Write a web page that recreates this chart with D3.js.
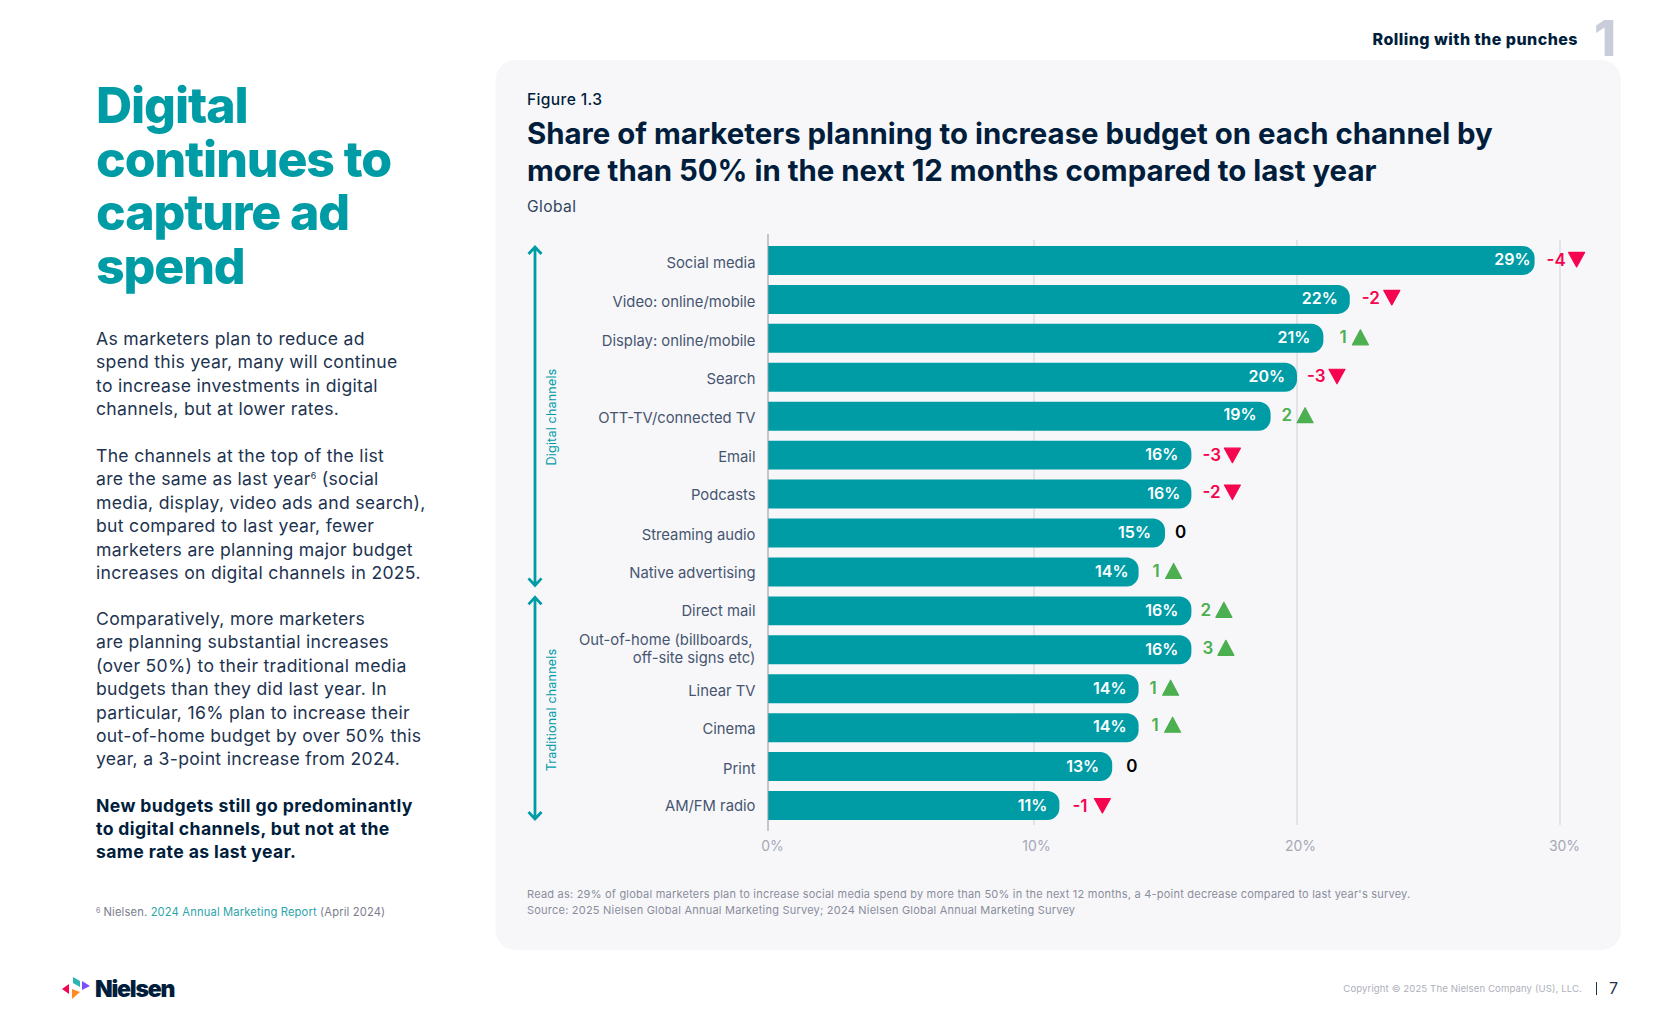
<!DOCTYPE html>
<html>
<head>
<meta charset="utf-8">
<title>Digital continues to capture ad spend</title>
<script src="https://cdnjs.cloudflare.com/ajax/libs/d3/7.8.5/d3.min.js"></script>
<style>
  html, body { margin: 0; padding: 0; background: #fff; }
  svg { display: block; }
  text { font-family: Inter, "Noto Sans", sans-serif; }
</style>
</head>
<body>
<svg id="chart" width="1680" height="1020"></svg>
<script>
const channels = ['Social media', 'Video: online/mobile', 'Display: online/mobile', 'Search', 'OTT-TV/connected TV', 'Email', 'Podcasts', 'Streaming audio', 'Native advertising', 'Direct mail', 'Out-of-home (billboards,|off-site signs etc)', 'Linear TV', 'Cinema', 'Print', 'AM/FM radio'];
const shares = [29, 22, 21, 20, 19, 16, 16, 15, 14, 16, 16, 14, 14, 13, 11];
const deltas = [-4, -2, 1, -3, 2, -3, -2, 0, 1, 2, 3, 1, 1, 0, -1];
const ticks = [0, 10, 20, 30];
const groups = [
  { name: 'Digital channels', first: 0, last: 8 },
  { name: 'Traditional channels', first: 9, last: 14 }
];

const headingLines = ['Digital', 'continues to', 'capture ad', 'spend'];
const titleLines = ['Share of marketers planning to increase budget on each channel by', 'more than 50% in the next 12 months compared to last year'];
const para1 = ['As marketers plan to reduce ad', 'spend this year, many will continue', 'to increase investments in digital', 'channels, but at lower rates.'];
const para2 = ['The channels at the top of the list', 'are the same as last year^6^ (social', 'media, display, video ads and search),', 'but compared to last year, fewer', 'marketers are planning major budget', 'increases on digital channels in 2025.'];
const para3 = ['Comparatively, more marketers', 'are planning substantial increases', '(over 50%) to their traditional media', 'budgets than they did last year. In', 'particular, 16% plan to increase their', 'out-of-home budget by over 50% this', 'year, a 3-point increase from 2024.'];
const para4 = ['New budgets still go predominantly', 'to digital channels, but not at the', 'same rate as last year.'];
const notes = ["Read as: 29% of global marketers plan to increase social media spend by more than 50% in the next 12 months, a 4-point decrease compared to last year's survey.", 'Source: 2025 Nielsen Global Annual Marketing Survey; 2024 Nielsen Global Annual Marketing Survey'];

// the source was placed by hand, these are the small per-row offsets
const shareRight = [3, 11, 12, 11, 13, 12, 10, 13, 9, 12, 12, 11, 11, 12, 11];
const shareDy = [-1, -1, -1, -1, -2, -1, -1, -1, -1, -1, -1, 0, -1, 0, 0];
const deltaLeft = [13, 13, 17, 11, 12, 12, 12, 11, 15, 10, 12, 12, 14, 15, 14];
const deltaDy = [-1, -2, -1, -1, -1, 0, -2, -1, -1, -1, -2, -1, -3, -1, 0];
const labelDy = [2, 2, 2, 1, 1, 1, 0, 1, 1, 0, -1, 2, 1, 2, 0];
const gridNudge = [2, 1, 0];

const TEAL = '#009ca6';
const NAVY = '#001e3c';
const RED = '#f5054f';
const GREEN = '#4caf50';

const svg = d3.select('#chart');

const addLines = (lines, x, y, pitch, size, weight, fill, spacing) => {
  const rows = svg.append('g').selectAll('text')
    .data(lines)
    .enter()
    .append('text')
    .attr('x', x)
    .attr('y', (d, i) => y + i * pitch)
    .attr('font-size', size)
    .attr('font-weight', weight)
    .attr('fill', fill)
    .attr('letter-spacing', spacing || 0);
  // ^6^ marks a footnote reference
  rows.each(function(d) {
    d3.select(this).selectAll('tspan')
      .data(d.split('^'))
      .enter()
      .append('tspan')
      .attr('font-size', (k, j) => j === 1 ? size * 0.5 : null)
      .attr('dy', (k, j) => j === 1 ? -size * 0.36 : j === 2 ? size * 0.36 : null)
      .text(k => k);
  });
};

// left column
addLines(headingLines, 96, 123, 53.7, 50, 800, TEAL, -1.12);
addLines(para1, 96, 345, 23.4, 17.6, 400, '#1d3350', 0.3);
addLines(para2, 96, 462, 23.4, 17.6, 400, '#1d3350', 0.3);
addLines(para3, 96, 625, 23.4, 17.6, 400, '#1d3350', 0.3);
addLines(para4, 96, 811.5, 23.4, 17.6, 700, NAVY, 0.38);

const foot = svg.append('text')
  .attr('x', 96)
  .attr('y', 916)
  .attr('font-size', 11.2)
  .attr('letter-spacing', 0.15)
  .attr('fill', '#7a7d8c');
foot.append('tspan').attr('font-size', 7).attr('dy', -3).text('6');
foot.append('tspan').attr('dy', 3).attr('dx', 3).text('Nielsen. ');
foot.append('tspan').attr('fill', '#2ba5aa').text('2024 Annual Marketing Report');
foot.append('tspan').text(' (April 2024)');

// header
svg.append('text')
  .attr('x', 1578)
  .attr('y', 45)
  .attr('text-anchor', 'end')
  .attr('font-size', 16)
  .attr('font-weight', 800)
  .attr('letter-spacing', 0.46)
  .attr('fill', NAVY)
  .text('Rolling with the punches');
svg.append('text')
  .attr('x', 1616)
  .attr('y', 56)
  .attr('text-anchor', 'end')
  .attr('font-size', 50)
  .attr('font-weight', 800)
  .attr('fill', '#c9ccd9')
  .text('1');

// panel
svg.append('rect')
  .attr('x', 495.5)
  .attr('y', 60)
  .attr('width', 1125.5)
  .attr('height', 890)
  .attr('rx', 20)
  .attr('fill', '#f7f7fa');

addLines(['Figure 1.3'], 527, 105, 0, 15.6, 500, NAVY, 0.35);
addLines(titleLines, 527, 144, 37.4, 29.4, 700, NAVY, 0);
addLines(['Global'], 527, 212, 0, 15.6, 400, '#2f4460', 0.4);
addLines(notes, 527, 897.5, 16, 11, 400, '#8a8d9b', 0.22);

// chart
const x = d3.scaleLinear().domain([0, 30]).range([772, 1564]);
const y = d3.scaleBand()
  .domain(d3.range(channels.length))
  .range([241, 825])
  .paddingInner(0.256)
  .paddingOuter(0.128);

const grid = svg.append('g');
grid.selectAll('line')
  .data(ticks.slice(1))
  .enter()
  .append('line')
  .attr('x1', (d, i) => x(d) - 4 + gridNudge[i])
  .attr('x2', (d, i) => x(d) - 4 + gridNudge[i])
  .attr('y1', 240)
  .attr('y2', 825)
  .attr('stroke', '#cfd1d9')
  .attr('stroke-width', 1);

const axis = svg.append('g')
  .attr('transform', 'translate(0, 837)')
  .call(d3.axisBottom(x).tickValues(ticks).tickFormat(d => d + '%').tickSize(0).tickPadding(0));
axis.select('.domain').remove();
axis.selectAll('text')
  .attr('dy', '.32em')
  .attr('y', 10)
  .attr('font-size', 14)
  .attr('font-family', 'Inter')
  .attr('fill', '#a6a8b6');

// square left end, pill right end
const barPath = (value, i) => {
  const left = x(0) - 4;
  const right = x(value) - 3;
  const top = y(i);
  const bottom = top + y.bandwidth();
  const r = 12;
  return `M${left},${top}H${right - r}A${r},${r} 0 0 1 ${right},${top + r}V${bottom - r}A${r},${r} 0 0 1 ${right - r},${bottom}H${left}Z`;
};

svg.append('g').selectAll('path')
  .data(shares)
  .enter()
  .append('path')
  .attr('d', barPath)
  .attr('fill', TEAL);

svg.append('line')
  .attr('x1', x(0) - 4)
  .attr('x2', x(0) - 4)
  .attr('y1', 234)
  .attr('y2', 831)
  .attr('stroke', '#8f93a3')
  .attr('stroke-width', 1);

svg.append('g').selectAll('text')
  .data(shares)
  .enter()
  .append('text')
  .attr('x', (d, i) => x(d) - 4 - shareRight[i])
  .attr('y', (d, i) => y(i) + y.bandwidth() / 2 + shareDy[i])
  .attr('dy', '.36em')
  .attr('text-anchor', 'end')
  .attr('font-size', 16)
  .attr('font-weight', 600)
  .attr('fill', '#fff')
  .text(d => d + '%');

// channel names, the long one wraps on |
const names = svg.append('g').selectAll('text')
  .data(channels)
  .enter()
  .append('text')
  .attr('text-anchor', 'end')
  .attr('font-size', 14.8)
  .attr('fill', '#46556f');
names.each(function(d, i) {
  const parts = d.split('|');
  d3.select(this).selectAll('tspan')
    .data(parts)
    .enter()
    .append('tspan')
    .attr('x', k => k.endsWith(',') ? 752.5 : 755.5)
    .attr('y', (k, j) => y(i) + y.bandwidth() / 2 + labelDy[i] + 5.5 + (j - (parts.length - 1) / 2) * 18)
    .text(k => k);
});

// year-on-year change
const deltaColor = d => d > 0 ? GREEN : d < 0 ? RED : '#000';
const deltaRows = svg.append('g').selectAll('g')
  .data(deltas)
  .enter()
  .append('g')
  .attr('transform', (d, i) => `translate(${x(shares[i]) - 4 + deltaLeft[i]}, ${y(i) + y.bandwidth() / 2 + deltaDy[i]})`);

deltaRows.append('text')
  .attr('dy', '.36em')
  .attr('font-size', 17)
  .attr('font-weight', 600)
  .attr('fill', deltaColor)
  .text(d => d);

deltaRows.filter(d => d !== 0)
  .append('path')
  .attr('transform', d => `translate(${d < 0 ? 30 : d === 1 ? 21 : 23.5}, 0)`)
  .attr('d', d => d < 0 ? 'M-8,-7H8L0,7.5Z' : 'M-8,7.5H8L0,-7.5Z')
  .attr('stroke', deltaColor)
  .attr('stroke-width', 1.2)
  .attr('stroke-linejoin', 'round')
  .attr('fill', deltaColor);

// group brackets
const brackets = svg.append('g').selectAll('g')
  .data(groups)
  .enter()
  .append('g');

brackets.append('path')
  .attr('d', d => {
    const top = y(d.first);
    const bottom = y(d.last) + y.bandwidth();
    return `M535,${top + 1}V${bottom - 1}M528.5,${top + 8}L535,${top + 1}L541.5,${top + 8}M528.5,${bottom - 8}L535,${bottom - 1}L541.5,${bottom - 8}`;
  })
  .attr('fill', 'none')
  .attr('stroke', TEAL)
  .attr('stroke-width', 2.8);

brackets.append('text')
  .attr('transform', (d, i) => `translate(556, ${i === 0 ? 417 : 710}) rotate(-90)`)
  .attr('text-anchor', 'middle')
  .attr('font-size', 12.6)
  .attr('letter-spacing', 0.15)
  .attr('fill', TEAL)
  .text(d => d.name);

// footer
svg.append('text')
  .attr('x', 1582)
  .attr('y', 992)
  .attr('text-anchor', 'end')
  .attr('font-size', 9.6)
  .attr('letter-spacing', 0.1)
  .attr('fill', '#aeb0bb')
  .text('Copyright © 2025 The Nielsen Company (US), LLC.');
svg.append('line')
  .attr('x1', 1596.5)
  .attr('x2', 1596.5)
  .attr('y1', 982)
  .attr('y2', 995)
  .attr('stroke', '#1d3350')
  .attr('stroke-width', 1);
svg.append('text')
  .attr('x', 1609)
  .attr('y', 994)
  .attr('font-size', 16)
  .attr('fill', '#1d3350')
  .text('7');

// logo
const logoMarks = [
  { d: 'M62,989L69,984V994Z', fill: '#f5054f' },
  { d: 'M73,977L80,981V987L73,983Z', fill: '#2fb3b0' },
  { d: 'M82,981L90,986L82,990Z', fill: '#7c4dff' },
  { d: 'M72,989L80,992L72,999Z', fill: '#ff8a1f' }
];
svg.append('g').selectAll('path')
  .data(logoMarks)
  .enter()
  .append('path')
  .attr('d', d => d.d)
  .attr('fill', d => d.fill);
svg.append('text')
  .attr('x', 95)
  .attr('y', 997)
  .attr('font-size', 23)
  .attr('font-weight', 900)
  .attr('letter-spacing', -1.2)
  .attr('fill', NAVY)
  .text('Nielsen');
</script>
</body>
</html>
